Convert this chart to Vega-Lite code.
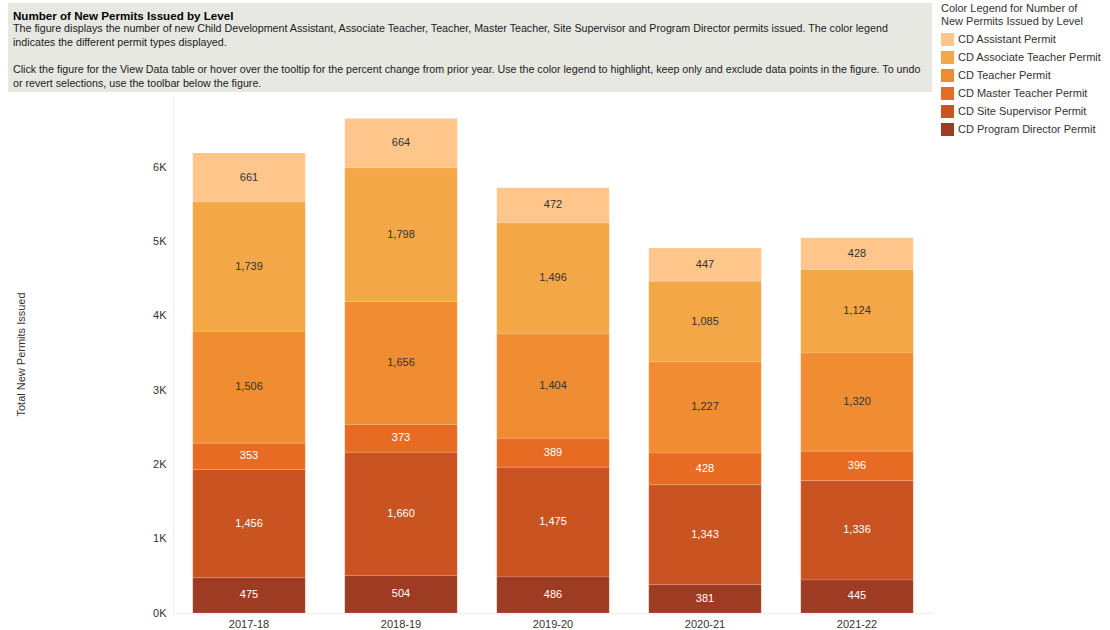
{
  "$schema": "https://vega.github.io/schema/vega-lite/v6.json",
  "padding": {"left": 8, "top": 3, "right": 4, "bottom": 4},
  "spacing": 3,
  "background": "white",
  "config": {
    "font": "Liberation Sans",
    "view": {"stroke": null}
  },
  "vconcat": [
    {
      "width": 924,
      "height": 89,
      "view": {"fill": "#e8e8e3", "stroke": null},
      "data": {"values": []},
      "mark": {"type": "text"},
      "encoding": {"text": {"field": "t"}},
      "title": {
        "text": "Number of New Permits Issued by Level",
        "subtitle": [
          "The figure displays the number of new Child Development Assistant, Associate Teacher, Teacher, Master Teacher, Site Supervisor and Program Director permits issued.  The color legend",
          "indicates the different permit types displayed.",
          "\u200b",
          "Click the figure for the View Data table or hover over the tooltip for the percent change from prior year.  Use the color legend to highlight, keep only and exclude data points in the figure.  To undo",
          "or revert selections, use the toolbar below the figure."
        ],
        "anchor": "start",
        "frame": "group",
        "orient": "top",
        "offset": -86,
        "dx": 5,
        "fontSize": 11.6,
        "fontWeight": "bold",
        "color": "#000000",
        "subtitleFontSize": 10.7,
        "subtitleColor": "#1a1a1a",
        "subtitlePadding": 2,
        "subtitleLineHeight": 13.8
      }
    },
    {
      "width": 925,
      "height": 518,
      "data": {
        "values": [
          {"year": "2017-18", "permit": "CD Assistant Permit", "lvl": 6, "n": 661},
          {"year": "2017-18", "permit": "CD Associate Teacher Permit", "lvl": 5, "n": 1739},
          {"year": "2017-18", "permit": "CD Teacher Permit", "lvl": 4, "n": 1506},
          {"year": "2017-18", "permit": "CD Master Teacher Permit", "lvl": 3, "n": 353},
          {"year": "2017-18", "permit": "CD Site Supervisor Permit", "lvl": 2, "n": 1456},
          {"year": "2017-18", "permit": "CD Program Director Permit", "lvl": 1, "n": 475},
          {"year": "2018-19", "permit": "CD Assistant Permit", "lvl": 6, "n": 664},
          {"year": "2018-19", "permit": "CD Associate Teacher Permit", "lvl": 5, "n": 1798},
          {"year": "2018-19", "permit": "CD Teacher Permit", "lvl": 4, "n": 1656},
          {"year": "2018-19", "permit": "CD Master Teacher Permit", "lvl": 3, "n": 373},
          {"year": "2018-19", "permit": "CD Site Supervisor Permit", "lvl": 2, "n": 1660},
          {"year": "2018-19", "permit": "CD Program Director Permit", "lvl": 1, "n": 504},
          {"year": "2019-20", "permit": "CD Assistant Permit", "lvl": 6, "n": 472},
          {"year": "2019-20", "permit": "CD Associate Teacher Permit", "lvl": 5, "n": 1496},
          {"year": "2019-20", "permit": "CD Teacher Permit", "lvl": 4, "n": 1404},
          {"year": "2019-20", "permit": "CD Master Teacher Permit", "lvl": 3, "n": 389},
          {"year": "2019-20", "permit": "CD Site Supervisor Permit", "lvl": 2, "n": 1475},
          {"year": "2019-20", "permit": "CD Program Director Permit", "lvl": 1, "n": 486},
          {"year": "2020-21", "permit": "CD Assistant Permit", "lvl": 6, "n": 447},
          {"year": "2020-21", "permit": "CD Associate Teacher Permit", "lvl": 5, "n": 1085},
          {"year": "2020-21", "permit": "CD Teacher Permit", "lvl": 4, "n": 1227},
          {"year": "2020-21", "permit": "CD Master Teacher Permit", "lvl": 3, "n": 428},
          {"year": "2020-21", "permit": "CD Site Supervisor Permit", "lvl": 2, "n": 1343},
          {"year": "2020-21", "permit": "CD Program Director Permit", "lvl": 1, "n": 381},
          {"year": "2021-22", "permit": "CD Assistant Permit", "lvl": 6, "n": 428},
          {"year": "2021-22", "permit": "CD Associate Teacher Permit", "lvl": 5, "n": 1124},
          {"year": "2021-22", "permit": "CD Teacher Permit", "lvl": 4, "n": 1320},
          {"year": "2021-22", "permit": "CD Master Teacher Permit", "lvl": 3, "n": 396},
          {"year": "2021-22", "permit": "CD Site Supervisor Permit", "lvl": 2, "n": 1336},
          {"year": "2021-22", "permit": "CD Program Director Permit", "lvl": 1, "n": 445}
        ]
      },
      "transform": [
        {"stack": "n", "groupby": ["year"], "sort": [{"field": "lvl", "order": "ascending"}], "as": ["y0", "y1"]}
      ],
      "encoding": {
        "x": {
          "field": "year",
          "type": "nominal",
          "sort": ["2017-18", "2018-19", "2019-20", "2020-21", "2021-22"],
          "scale": {"range": [165, 925], "paddingInner": 0.26, "paddingOuter": 0.13},
          "axis": {
            "title": null,
            "labelAngle": 0,
            "ticks": false,
            "domain": true,
            "domainColor": "#eeeeee",
            "labelFontSize": 11,
            "labelColor": "#333333",
            "labelPadding": 5
          }
        }
      },
      "layer": [
        {
          "mark": {"type": "bar", "stroke": "#ffffff", "strokeWidth": 0.5, "strokeOpacity": 0.3},
          "encoding": {
            "y": {
              "field": "y0",
              "type": "quantitative",
              "scale": {"domain": [0, 6970], "nice": false},
              "axis": {
                "title": "Total New Permits Issued",
                "offset": -165,
                "values": [0, 1000, 2000, 3000, 4000, 5000, 6000],
                "labelExpr": "datum.value / 1000 + 'K'",
                "grid": false,
                "ticks": false,
                "domain": true,
                "domainColor": "#eeeeee",
                "labelFontSize": 11,
                "labelColor": "#333333",
                "labelPadding": 7,
                "titleFontSize": 11,
                "titleFontWeight": "normal",
                "titleColor": "#333333",
                "titlePadding": 126
              }
            },
            "y2": {"field": "y1"},
            "color": {
              "field": "permit",
              "type": "nominal",
              "scale": {
                "domain": ["CD Assistant Permit", "CD Associate Teacher Permit", "CD Teacher Permit", "CD Master Teacher Permit", "CD Site Supervisor Permit", "CD Program Director Permit"],
                "range": ["#fec68a", "#f3a746", "#f08c31", "#e86b23", "#c95421", "#9d3b23"]
              },
              "legend": {
                "title": ["Color Legend for Number of", "New Permits Issued by Level"],
                "orient": "none",
                "legendX": 933,
                "legendY": 0,
                "titleAnchor": "start",
                "titleFontSize": 11,
                "titleFontWeight": "normal",
                "titleColor": "#333333",
                "titleLimit": 300,
                "titlePadding": 6,
                "labelFontSize": 11,
                "labelColor": "#333333",
                "labelLimit": 300,
                "labelOffset": 4,
                "symbolType": "square",
                "symbolSize": 169,
                "symbolStrokeWidth": 0,
                "rowPadding": 5
              }
            }
          }
        },
        {
          "transform": [
            {"fold": ["y0", "y1"], "as": ["edge", "v"]},
            {"aggregate": [{"op": "mean", "field": "v", "as": "ym"}], "groupby": ["year", "permit", "lvl", "n"]}
          ],
          "mark": {"type": "text", "fontSize": 11, "baseline": "middle", "align": "center"},
          "encoding": {
            "y": {"field": "ym", "type": "quantitative"},
            "text": {"field": "n", "type": "quantitative", "format": ","},
            "color": {
              "condition": {"test": "datum.lvl <= 3", "value": "#ffffff"},
              "value": "#333333"
            }
          }
        }
      ]
    }
  ]
}
